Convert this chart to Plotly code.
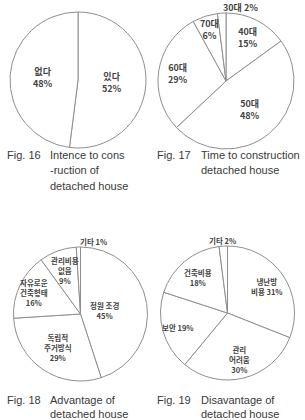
import math
import plotly.graph_objects as go

# ---- data ----
labels1 = ["있다", "없다"]
values1 = [52, 48]
seps1 = ["<br>", "<br>"]

labels2 = ["40대", "50대", "60대", "70대", "30대"]
values2 = [15, 48, 29, 6, 2]
seps2 = ["<br>", "<br>", "<br>", "<br>", " "]

labels3 = ["정원 조경", "독립적<br>주거방식", "자유로운<br>건축형태", "관리비용<br>없음", "기타"]
values3 = [45, 29, 16, 9, 1]
seps3 = ["<br>", "<br>", "<br>", "<br>", " "]

labels4 = ["냉난방<br>비용", "관리<br>어려움", "보안", "건축비용", "기타"]
values4 = [31, 30, 19, 18, 2]
seps4 = [" ", "<br>", " ", "<br>", " "]

captions = [
    ("Fig. 16", ["Intence to cons", "-ruction of", "detached house"]),
    ("Fig. 17", ["Time to construction", "detached house"]),
    ("Fig. 18", ["Advantage of", "detached house"]),
    ("Fig. 19", ["Disavantage of", "detached house"]),
]

# ---- style / layout ----
W, H = 305, 420
FONT = "Noto Sans CJK KR"
# pie geometry in pixels: centre x, centre y (from top), radius
geoms = [(78, 80, 68), (226, 81, 68), (80.5, 314, 67), (227.5, 313, 67)]
# radial position of each label as a fraction of the radius
label_r = [
    [0.5, 0.52],
    [0.72, 0.55, 0.72, 0.8, 1.08],
    [0.36, 0.6, 0.77, 0.69, 1.09],
    [0.71, 0.71, 0.77, 0.68, 1.08],
]
# horizontal anchoring of each label
label_anchor = [
    ["center", "center"],
    ["center", "center", "center", "center", "left"],
    ["center", "center", "center", "center", "left"],
    ["center", "center", "center", "center", "center"],
]
label_size = [9, 9, 7.5, 7.5]


def dom(cx, cy, r):
    return dict(x=[(cx - r) / W, (cx + r) / W], y=[(H - cy - r) / H, (H - cy + r) / H])


def pie(labels, values, domain):
    return go.Pie(
        labels=[l.replace("<br>", " ") for l in labels],
        values=values,
        textinfo="none",
        sort=False,
        direction="clockwise",
        rotation=0,
        marker=dict(colors=["white"] * len(values), line=dict(color="#8f8f8f", width=1)),
        domain=domain,
        showlegend=False,
        hoverinfo="label+percent",
    )


def slice_labels(labels, values, seps, geom, rfrac, anchors, size):
    cx, cy, r = geom
    total = sum(values)
    out = []
    cum = 0
    for l, s, v, f, a in zip(labels, seps, values, rfrac, anchors):
        mid = (cum + v / 2) / total * 2 * math.pi
        cum += v
        x = cx + f * r * math.sin(mid)
        y = cy - f * r * math.cos(mid)
        out.append(dict(
            x=x / W, y=1 - y / H, xref="paper", yref="paper",
            text=f"{l}{s}{v}%", showarrow=False,
            xanchor=a, yanchor="middle", align="center",
            font=dict(family=FONT, size=size, color="#444444", weight="bold"),
        ))
    return out


fig = go.Figure()
all_sets = [
    (labels1, values1, seps1),
    (labels2, values2, seps2),
    (labels3, values3, seps3),
    (labels4, values4, seps4),
]
anns = []
for (lab, val, sep), g, rf, an, sz in zip(all_sets, geoms, label_r, label_anchor, label_size):
    fig.add_trace(pie(lab, val, dom(*g)))
    anns += slice_labels(lab, val, sep, g, rf, an, sz)

# captions: (fig label x, text block x, first line y, line spacing)
cap_pos = [(5, 48, 155, 15.3), (155, 199, 155, 15.3), (5, 48, 400, 14.3), (155, 199, 400, 14.3)]
for (fl, lines), (fx, tx, y0, dy) in zip(captions, cap_pos):
    anns.append(dict(x=fx / W, y=1 - y0 / H, xref="paper", yref="paper", text=fl,
                     showarrow=False, xanchor="left", yanchor="middle",
                     font=dict(family="Liberation Sans", size=11, color="#3a3a3a")))
    for i, ln in enumerate(lines):
        anns.append(dict(x=tx / W, y=1 - (y0 + i * dy) / H, xref="paper", yref="paper", text=ln,
                         showarrow=False, xanchor="left", yanchor="middle",
                         font=dict(family="Liberation Sans", size=11, color="#3a3a3a")))

fig.update_layout(
    width=W, height=H,
    margin=dict(l=0, r=0, t=0, b=0),
    paper_bgcolor="white", plot_bgcolor="white",
    annotations=anns,
)
fig.write_html("out.html")
